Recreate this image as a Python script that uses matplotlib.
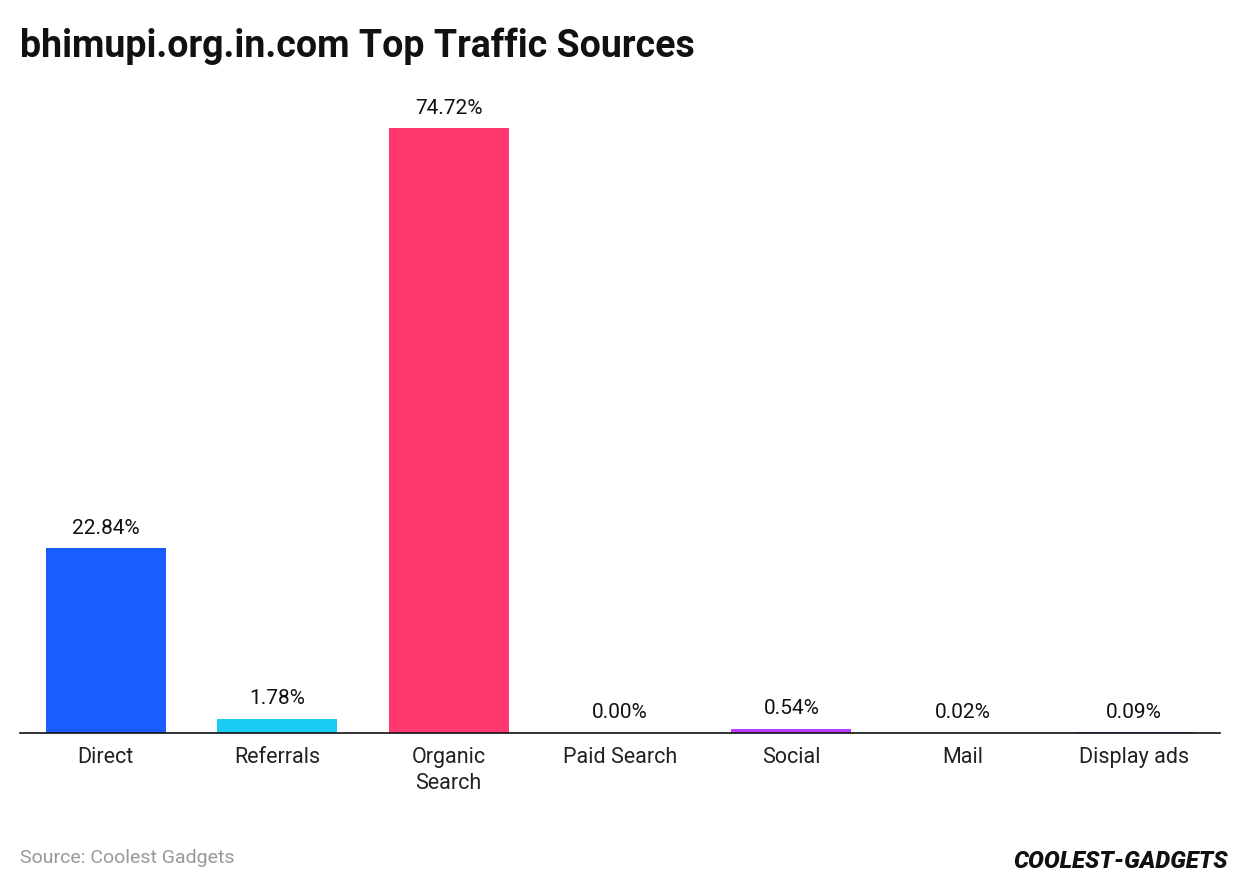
import matplotlib.pyplot as plt

categories = ["Direct", "Referrals", "Organic\nSearch", "Paid Search", "Social", "Mail", "Display ads"]
values = [22.84, 1.78, 74.72, 0.00, 0.54, 0.02, 0.09]
colors = ["#1a5dff", "#19cdf2", "#ff3870", "#ff9f1a", "#b83dff", "#2ec27e", "#8a6cff"]

plt.rcParams["font.family"] = "Roboto"

fig = plt.figure(figsize=(12.4, 8.92), dpi=100)
ax = fig.add_axes([20 / 1240, 159 / 892, 1200 / 1240, 633 / 892])

x = range(len(categories))
ax.bar(x, values, width=0.7, color=colors)
for i, v in zip(x, values):
    ax.text(i, v + 1.3, "%.2f%%" % v, ha="center", va="bottom", fontsize=15, color="#111111")

ax.set_xlim(-0.5, len(categories) - 0.5)
ax.set_ylim(0, 78.2)
ax.set_xticks(list(x))
ax.set_xticklabels(categories, fontsize=15.5, color="#222222", linespacing=1.3)
ax.tick_params(axis="x", length=0, pad=10)
ax.set_yticks([])
for s in ["top", "right", "left"]:
    ax.spines[s].set_visible(False)
ax.spines["bottom"].set_color("#111111")
ax.spines["bottom"].set_linewidth(1.2)

fig.text(20 / 1240, 1 - 46 / 892, "bhimupi.org.in.com Top Traffic Sources",
         fontsize=27, fontweight="bold", va="center", ha="left", color="#111111")
fig.text(20 / 1240, 1 - 858 / 892, "Source: Coolest Gadgets",
         fontsize=14, color="#999999", va="center", ha="left")
fig.text(1228 / 1240, 1 - 862 / 892, "COOLEST-GADGETS", fontsize=17,
         fontweight="heavy", fontstyle="italic", color="#111111", va="center", ha="right")

fig.savefig("out.png", dpi=100, facecolor="white")
